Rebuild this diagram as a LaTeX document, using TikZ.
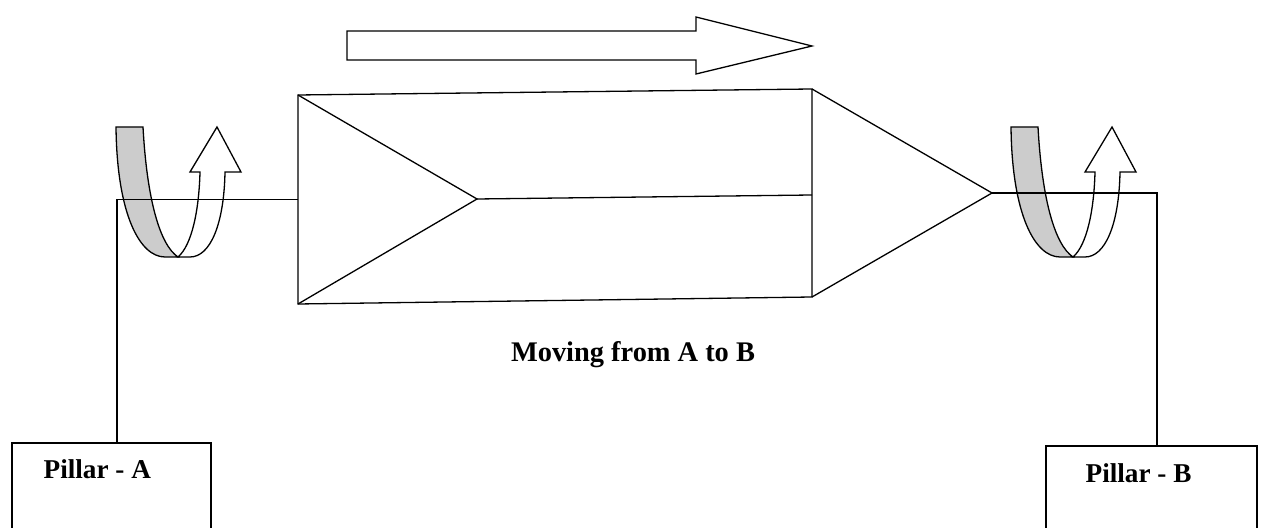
\documentclass[tikz,border=0pt]{standalone}
\usepackage{fontspec}
\setmainfont{Liberation Serif}

\begin{document}
\begin{tikzpicture}[x=0.5pt,y=-0.5pt,line width=0.65pt,
  pillartext/.style={font=\bfseries\fontsize{13.6}{16}\selectfont,inner sep=0pt},
  curlback/.style={draw,fill=gray!40},
  curlfront/.style={draw,fill=white}]
\useasboundingbox (0,0) rectangle (1262,528);

% direction arrow
\draw (347,31) -- (696,31) -- (696,17) -- (812,46) -- (696,74) -- (696,60) -- (347,60) -- cycle;

% rotating curls at both pillars
\foreach \dx in {0,895} {
\begin{scope}[shift={(\dx,0)}]
\path[curlback] (116,127) -- (143,127) .. controls (147,200) and (160,245) .. (178,257)
  -- (165,257) .. controls (140,257) and (117,215) .. (116,127) -- cycle;
\path[curlfront] (178,257) .. controls (192,245) and (199,210) .. (200,172) -- (190,172)
  -- (217,127) -- (241,172) -- (225,172) .. controls (224,225) and (210,257) .. (190,257) -- cycle;
\end{scope}
}

% body
\coordinate (tl) at (298,95);
\coordinate (tr) at (812,89);
\coordinate (br) at (812,297);
\coordinate (bl) at (298,304);
\coordinate (tip1) at (477,199);
\coordinate (mr) at (812,195);
\coordinate (tip2) at (992,193);
\coordinate (jl) at (298,199.5);
\draw (tl) -- (tr) -- (br) -- (bl) -- cycle;
\draw (tl) -- (tip1) -- (bl);
\draw (tip1) -- (mr);
\draw (tr) -- (tip2) -- (br);

% pillars
\coordinate (topA) at (117,443);
\coordinate (topB) at (1157,446);
\draw (12,528) -- (12,443) -- (211,443) -- (211,528);
\draw (1046,528) -- (1046,446) -- (1257,446) -- (1257,528);
\draw (jl) -- (topA |- jl) -- (topA);
\draw (tip2) -- (topB |- tip2) -- (topB);

\node[pillartext,anchor=base west] (pillarA) at (43,479) {Pillar - A};
\node[pillartext,anchor=base west] (pillarB) at (1085,482) {Pillar - B};
\node[pillartext,font=\bfseries\fontsize{14.2}{17}\selectfont,anchor=base] (move) at (633,362) {Moving from A to B};
\end{tikzpicture}
\end{document}
